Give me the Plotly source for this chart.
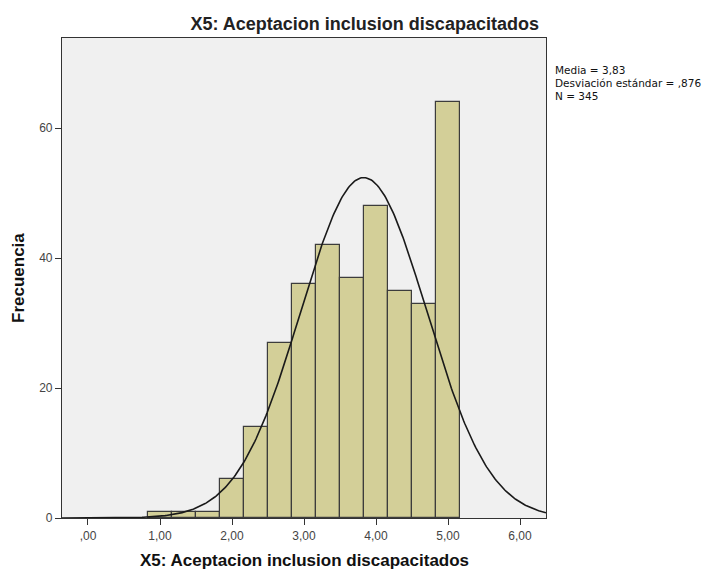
import numpy as np
import plotly.graph_objects as go

title_text = "X5: Aceptacion inclusion discapacitados"
bin_centers = [1.0, 4/3, 5/3, 2.0, 7/3, 8/3, 3.0, 10/3, 11/3, 4.0, 13/3, 14/3, 5.0]
frequencies = [1, 1, 1, 6, 14, 27, 36, 42, 37, 48, 35, 33, 64]
bin_width = 1/3
mean_val = 3.83
sd_val = 0.876
n_val = 345
stats_lines = ["Media = 3,83", "Desviación estándar = ,876", "N = 345"]
x_tickvals = [0, 1, 2, 3, 4, 5, 6]
x_ticktext = [",00", "1,00", "2,00", "3,00", "4,00", "5,00", "6,00"]
y_tickvals = [0, 20, 40, 60]

x_range = [-0.361, 6.361]
y_range = [0, 73.85]

xs = np.linspace(x_range[0], x_range[1], 400)
ys = n_val * bin_width * np.exp(-0.5 * ((xs - mean_val) / sd_val) ** 2) / (sd_val * np.sqrt(2 * np.pi))

font_family = "Liberation Sans, Arial, sans-serif"

fig = go.Figure()
fig.add_trace(go.Bar(
    x=bin_centers, y=frequencies, width=[bin_width] * len(bin_centers),
    marker=dict(color="#D3CF98", line=dict(color="#3C3C3C", width=1.2)),
    hoverinfo="x+y", showlegend=False,
))
fig.add_trace(go.Scatter(
    x=xs, y=ys, mode="lines", line=dict(color="#1A1A1A", width=1.6),
    hoverinfo="skip", showlegend=False,
))

annotations = [
    dict(
        text="<b>Frecuencia</b>", textangle=-90,
        xref="paper", yref="paper", x=-0.0909, y=0.50,
        xanchor="center", yanchor="middle", showarrow=False,
        font=dict(size=17, color="#111111"),
    ),
    dict(
        text="<b>" + title_text + "</b>",
        xref="paper", yref="paper", x=0.5, y=-0.089,
        xanchor="center", yanchor="middle", showarrow=False,
        font=dict(size=17, color="#111111"),
    ),
]
stats_y = [0.9333, 0.9063, 0.8792]
for line, yy in zip(stats_lines, stats_y):
    annotations.append(dict(
        text=line, xref="paper", yref="paper", x=1.0145, y=yy,
        xanchor="left", yanchor="middle", align="left", showarrow=False,
        font=dict(family="DejaVu Sans, sans-serif", size=10.5, color="#111111"),
    ))

# page body has an 8px margin, so the figure is offset; margins compensate
fig.update_layout(
    width=712, height=571,
    margin=dict(l=54, r=174, t=30, b=61, autoexpand=False),
    paper_bgcolor="white", plot_bgcolor="#F0F0F0",
    font=dict(family=font_family, size=12, color="#333333"),
    bargap=0,
    title=dict(text="<b>" + title_text + "</b>", x=0.501, xanchor="center",
               y=0.972, yanchor="middle",
               font=dict(size=18, color="#222222")),
    annotations=annotations,
)
fig.update_xaxes(
    range=x_range, tickvals=x_tickvals, ticktext=x_ticktext,
    ticks="outside", ticklen=6, tickcolor="#333333", tickwidth=1.2,
    showgrid=False, zeroline=False, automargin=False,
    showline=True, linecolor="#333333", linewidth=1.2, mirror=True,
    tickfont=dict(size=12, color="#444444"),
)
fig.update_yaxes(
    range=y_range, tickvals=y_tickvals,
    ticks="outside", ticklen=6, tickcolor="#333333", tickwidth=1.2,
    showgrid=False, zeroline=False, automargin=False,
    showline=True, linecolor="#333333", linewidth=1.2, mirror=True,
    tickfont=dict(size=12, color="#444444"),
)

fig.write_html("out.html")
